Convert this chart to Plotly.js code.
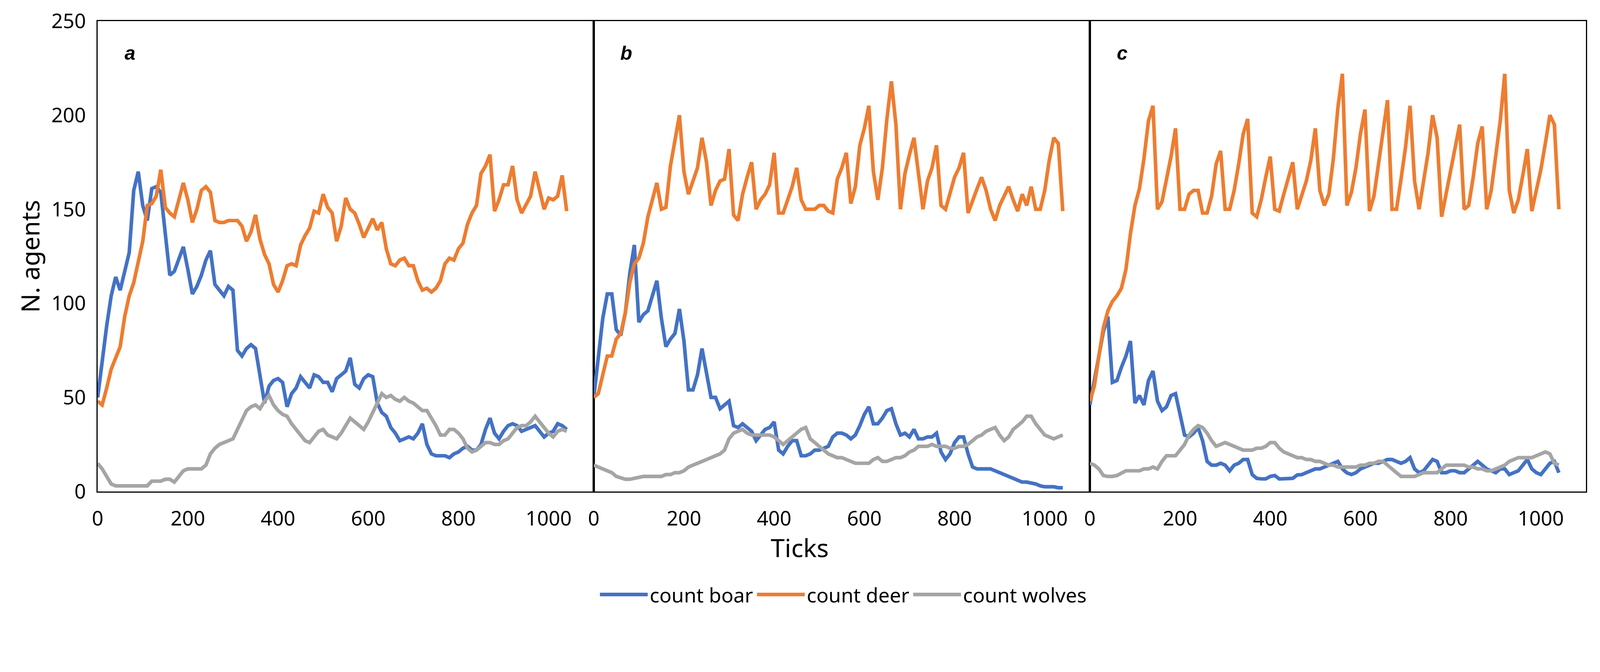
<!DOCTYPE html>
<html>
<head>
<meta charset="utf-8">
<script src="https://cdn.plot.ly/plotly-3.0.1.min.js"></script>
<style>
  html, body { margin: 0; padding: 0; background: #ffffff; overflow: hidden; }
  #graph { position: absolute; left: 0; top: 0; }
</style>
</head>
<body>
<div id="graph"></div>
<script>
// simulation ticks, sampled every 10 ticks (0 .. 1040)
const ticks = Array.from({ length: 105 }, (_, i) => i * 10);

// panel a
const boarA = [50,70,88,104,114,107,118,127,160,170,152,144,161,162,159,138,115,117,124,130,
  118,105,109,115,123,128,110,107,104,109,107,75,72,76,78,76,62,47,56,59,
  60,58,45,52,55,61,58,55,62,61,58,58,53,60,62,64,71,57,55,60,
  62,61,47,42,40,34,31,27,28,29,28,31,36,25,20,19,19,19,18,20,
  21,23,24,22,22,25,33,39,31,28,32,35,36,35,32,33,34,35,32,29,
  31,32,36,35,33];
const deerA = [48,46,55,65,71,77,93,104,111,121,133,152,153,157,171,151,148,146,155,164,
  155,143,150,160,162,159,144,143,143,144,144,144,141,133,138,147,134,126,121,110,
  106,112,120,121,120,131,136,140,149,148,158,151,148,133,141,156,150,148,142,135,
  140,145,139,143,129,121,120,123,124,120,120,112,107,108,106,108,112,121,124,123,
  129,132,142,148,152,169,173,179,149,155,163,163,173,155,148,153,157,170,159,150,
  156,155,157,168,149];
const wolvesA = [15,12,8,4,3,3,3,3,3,3,3,3,5.5,5.5,5.5,6.5,6.5,5,8,11,
  12,12,12,12,14,20,23,25,26,27,28,33,38,43,45,46,44,48,51,46,
  43,41,40,36,33,30,27,26,29,32,33,30,29,28,31,35,39,37,35,33,
  37,42,48,52,50,51,49,48,50,48,47,45,43,43,39,35,30,30,33,33,
  31,28,23,21,22,24,26,26,25,25,27,28,31,34,35,35,37,40,37,34,
  31,29,32,33,32];

// panel b
const boarB = [50,73,92,105,105,86,83,95,116,131,90,94,96,104,112,92,77,81,84,97,
  80,54,54,62,76,63,50,50,44,46,48,35,34,36,34,32,27,30,33,34,
  37,22,20,24,27,27,19,19,20,22,22,23,24,29,31,31,30,28,30,35,
  41,45,36,36,39,43,44,36,30,31,29,33,28,28,29,29,31,21,17,20,
  26,29,29,20,13,12,12,12,12,11,10,9,8,7,6,5,5,4.5,4,3,
  2.5,2.5,2.5,2,2];
const deerB = [50,52,62,72,72,81,84,95,111,121,124,132,146,156,164,150,151,173,188,200,
  170,158,165,172,188,175,152,160,165,166,182,147,144,158,167,175,150,155,158,163,
  180,148,148,155,162,172,155,150,150,150,152,152,149,148,166,172,180,153,162,184,
  193,205,170,155,172,198,218,195,150,169,179,188,169,150,165,172,184,152,150,158,
  167,172,180,148,155,161,167,160,150,144,152,157,162,155,149,158,152,162,150,150,
  160,176,188,185,149];
const wolvesB = [14,13,12,11,10,8,7,6.5,6.5,7,7.5,8,8,8,8,8,9,9,10,10,
  11,13,14,15,16,17,18,19,20,22,28,31,32,33,31,30,30,30,30,30,
  29,27,25,27,29,31,33,34,28,26,24,22,20,19,18,18,17,16,15,15,
  15,15,17,18,16,16,17,18,18,19,21,22,24,24,24,25,24,24,24,23,
  23,24,24,25,27,29,30,32,33,34,30,27,29,33,35,37,40,40,36,33,
  30,29,28,29,30];

// panel c
const boarC = [46,58,72,85,93,58,59,66,72,80,47,51,46,59,64,48,43,45,51,52,
  40,30,29,31,34,27,16,14,14,15,14,11,14,15,17,17,9,7,6.7,6.7,
  8,8.5,6.7,6.7,6.7,7,8.8,9,10,11,12,12,13,14,15,16,12,9.9,9,10,
  12,13,14,15,15,16,17,17,16,15,16,18,12,10,11,14,17,16,10,10,
  11,11,10,10,12,14,16,14,12,11,10,12,12,9,10,11,14,17,12,10,
  9,12,15,16,10];
const deerC = [48,56,72,87,96,101,104,108,118,137,152,161,177,197,205,150,154,166,178,193,
  150,150,158,160,160,148,148,157,174,181,150,150,160,174,190,198,148,146,155,167,
  178,150,149,158,166,175,150,158,165,176,193,160,152,158,177,204,222,152,159,172,
  190,203,149,157,174,194,208,150,150,166,183,205,165,150,164,180,200,188,146,158,
  170,183,195,150,152,167,185,194,150,160,180,197,222,160,148,155,168,182,149,160,
  171,185,200,195,150];
const wolvesC = [15,14,12,8.5,8,8,8.5,10,11,11,11,11,12,12,13,12,16,19,19,19,
  22,25,30,33,35,34,31,27,24,25,26,25,24,23,22,22,22,23,23,24,
  26,26,23,21,20,19,18,18,17,17,16,16,15,14,14,13,13,13,13,13,
  14,14,15,15,16,16,14,12,10,8,8,8,8,9,10,10,10,10,12,14,
  14,14,14,14,13,13,12,12,11,11,12,13,14,16,17,18,18,18,18,19,
  20,21,20,15,14];

const xTickVals = [0, 200, 400, 600, 800, 1000];
const yTickVals = [0, 50, 100, 150, 200, 250];

const panels = [
  { label: "a", boar: boarA, deer: deerA, wolves: wolvesA },
  { label: "b", boar: boarB, deer: deerB, wolves: wolvesB },
  { label: "c", boar: boarC, deer: deerC, wolves: wolvesC },
];
const seriesNames = ["count boar", "count deer", "count wolves"];
const seriesKeys = ["boar", "deer", "wolves"];
const colors = ["#4472C4", "#ED7D31", "#A5A5A5"];

const FONT = "Noto Sans, Open Sans, DejaVu Sans, sans-serif";

// fit the 4451 x 1720 design to whatever the viewport really is
const W = window.innerWidth || 4451;
const H = window.innerHeight || 1720;
const s = Math.min(W / 4451, H / 1720);
const px = (v) => v * s;

let traces = [];
panels.forEach((p, i) => {
  const suffix = i === 0 ? "" : String(i + 1);
  seriesKeys.forEach((key, j) => {
    traces.push({
      type: "scatter",
      mode: "lines",
      name: seriesNames[j],
      x: ticks,
      y: p[key],
      xaxis: "x" + suffix,
      yaxis: "y" + suffix,
      showlegend: i === 0,
      legendgroup: key,
      line: { color: colors[j], width: px(10) },
      hoverinfo: "skip",
    });
  });
});

// main axes: box lines + labels; the outside ticks are invisible and only
// push the labels away from the frame
function xAxis(domain, anchor) {
  return {
    domain: domain,
    anchor: anchor,
    range: [0, 1100],
    tickvals: xTickVals,
    ticks: "outside",
    ticklen: px(24),
    tickcolor: "rgba(0,0,0,0)",
    showline: true,
    linewidth: px(3.5),
    linecolor: "#000000",
    mirror: true,
    showgrid: false,
    zeroline: false,
    tickfont: { family: FONT, size: px(56), color: "#000000" },
  };
}

function yAxis(anchor, showLabels) {
  return {
    anchor: anchor,
    range: [0, 250],
    tickvals: yTickVals,
    ticks: "outside",
    ticklen: px(18),
    tickcolor: "rgba(0,0,0,0)",
    showline: true,
    linewidth: px(3.5),
    linecolor: "#000000",
    mirror: true,
    showgrid: false,
    zeroline: false,
    showticklabels: showLabels,
    tickfont: { family: FONT, size: px(56), color: "#000000" },
  };
}

// overlay axes that only draw the inside tick marks
function xTickAxis(base, anchor) {
  return {
    overlaying: base,
    anchor: anchor,
    range: [0, 1100],
    tickvals: xTickVals,
    ticks: "inside",
    ticklen: px(20),
    tickwidth: px(3.5),
    tickcolor: "#000000",
    showticklabels: false,
    showline: false,
    showgrid: false,
    zeroline: false,
  };
}

function yTickAxis(base, anchor) {
  return {
    overlaying: base,
    anchor: anchor,
    range: [0, 250],
    tickvals: yTickVals,
    ticks: "inside",
    ticklen: px(20),
    tickwidth: px(3.5),
    tickcolor: "#000000",
    showticklabels: false,
    showline: false,
    showgrid: false,
    zeroline: false,
  };
}

let layout = {
  width: 4451 * s,
  height: 1720 * s,
  paper_bgcolor: "#ffffff",
  plot_bgcolor: "#ffffff",
  margin: { l: px(272), r: px(39), t: px(59), b: px(353), pad: 0 },
  font: { family: FONT, color: "#000000" },
  xaxis: xAxis([0, 1 / 3], "y"),
  xaxis2: xAxis([1 / 3, 2 / 3], "y2"),
  xaxis3: xAxis([2 / 3, 1], "y3"),
  xaxis4: xTickAxis("x", "y"),
  xaxis5: xTickAxis("x2", "y2"),
  xaxis6: xTickAxis("x3", "y3"),
  yaxis: Object.assign(yAxis("x", true), {
    title: { text: "N. agents", font: { family: FONT, size: px(70) }, standoff: px(10) },
  }),
  yaxis2: yAxis("x2", false),
  yaxis3: yAxis("x3", false),
  yaxis4: yTickAxis("y", "x"),
  yaxis5: yTickAxis("y2", "x2"),
  yaxis6: yTickAxis("y3", "x3"),
  showlegend: true,
  legend: {
    orientation: "h",
    x: 0.501,
    xanchor: "center",
    y: -0.219,
    yanchor: "middle",
    font: { family: FONT, size: px(56), color: "#000000" },
    itemwidth: Math.max(30, px(133)),
    tracegroupgap: 0,
    bgcolor: "rgba(0,0,0,0)",
  },
  annotations: [
    {
      text: "Ticks",
      xref: "paper",
      yref: "paper",
      x: 0.4717,
      y: -0.119,
      xanchor: "center",
      yanchor: "middle",
      showarrow: false,
      font: { family: FONT, size: px(70), color: "#000000" },
    },
  ],
};

panels.forEach((p, i) => {
  const suffix = i === 0 ? "" : String(i + 1);
  layout.annotations.push({
    text: "<b><i>" + p.label + "</i></b>",
    xref: "x" + suffix,
    yref: "y" + suffix,
    x: 72,
    y: 233,
    xanchor: "center",
    yanchor: "middle",
    showarrow: false,
    font: { family: "Liberation Sans, Arial, sans-serif", size: px(54), color: "#000000" },
  });
});

Plotly.newPlot("graph", traces, layout, { displayModeBar: false, staticPlot: true });
</script>
</body>
</html>
